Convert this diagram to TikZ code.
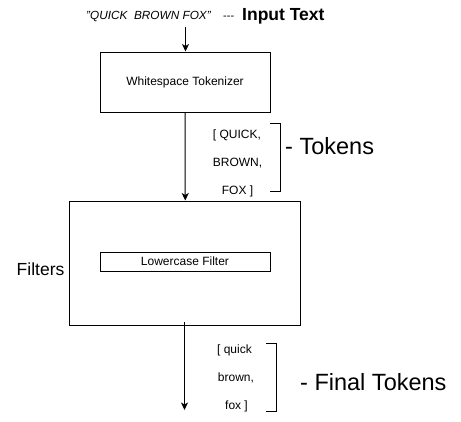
\documentclass[tikz,border=0pt]{standalone}
\usepackage{fontspec}
\setmainfont{Liberation Sans}[Ligatures=NoCommon]
\usetikzlibrary{arrows.meta}
\begin{document}
\begin{tikzpicture}[x=1pt,y=-1pt,
  box/.style={draw,line width=1pt,inner sep=0pt},
  lbl/.style={inner sep=0pt,font=\fontsize{12}{14}\selectfont},
  big/.style={inner sep=0pt,font=\fontsize{23.5}{26}\selectfont},
  mid/.style={inner sep=0pt,font=\fontsize{17.5}{20}\selectfont},
  conn/.style={line width=1pt,-{Stealth[length=7.5pt,width=7pt,inset=2pt]}},
  brk/.style={line width=1pt}]
\useasboundingbox (0,0) rectangle (461,421);
% top
\node[inner sep=0pt,anchor=base west,font=\fontsize{11.8}{13}\selectfont\itshape] (quote) at (86,19.3) {"QUICK\ \ BROWN FOX"};
\node[inner sep=0pt,anchor=base west,font=\fontsize{11}{13}\selectfont] (dash3) at (223,19.3) {{-}{-}{-}};
\node[inner sep=0pt,anchor=base west,font=\fontsize{17.5}{20}\selectfont\bfseries] (inp) at (242,20.7) {Input Text};
\coordinate (start) at (185.5,27);
% boxes
\node[box,minimum width=170pt,minimum height=60pt] (tok) at (185,82) {};
\node[lbl] (toktxt) at (tok.center) {Whitespace Tokenizer};
\node[box,minimum width=231pt,minimum height=124pt] (filt) at (185.25,263) {};
\node[box,minimum width=170pt,minimum height=19pt] (lower) at (185,261.5) {};
\node[lbl] (lowtxt) at (lower.center) {Lowercase Filter};
\node[mid,anchor=west] (filters) at (16.5,269) {Filters};
% arrows
\draw[conn] (start) -- (start |- tok.north);
\draw[conn] (tok.south) -- (filt.north);
\coordinate (out) at (184.5,322);
\coordinate (end) at (184.5,410);
\draw[conn] (out) -- (end);
% tokens
\node[lbl,anchor=base] (t1) at (237,138.3) {[ QUICK,};
\node[lbl,anchor=base] (t2) at (237.5,166.6) {BROWN,};
\node[lbl,anchor=base] (t3) at (237.5,194.3) {FOX ]};
\coordinate (b1a) at (270,123);
\coordinate (b1b) at (280.5,123);
\coordinate (b1c) at (280.5,191);
\coordinate (b1d) at (270,191);
\draw[brk] (b1a) -- (b1b) -- (b1c) -- (b1d);
\node[big,anchor=base west] (tokl) at (285,154.5) {- Tokens};
% final tokens
\node[lbl,anchor=base] (f1) at (234.5,353.5) {[ quick};
\node[lbl,anchor=base] (f2) at (236,381.5) {brown,};
\node[lbl,anchor=base] (f3) at (236.5,409.5) {fox ]};
\coordinate (b2a) at (266,343);
\coordinate (b2b) at (276.5,343);
\coordinate (b2c) at (276.5,411);
\coordinate (b2d) at (266,411);
\draw[brk] (b2a) -- (b2b) -- (b2c) -- (b2d);
\node[big,anchor=base west] (fin) at (300,390) {- Final Tokens};
\end{tikzpicture}
\end{document}
